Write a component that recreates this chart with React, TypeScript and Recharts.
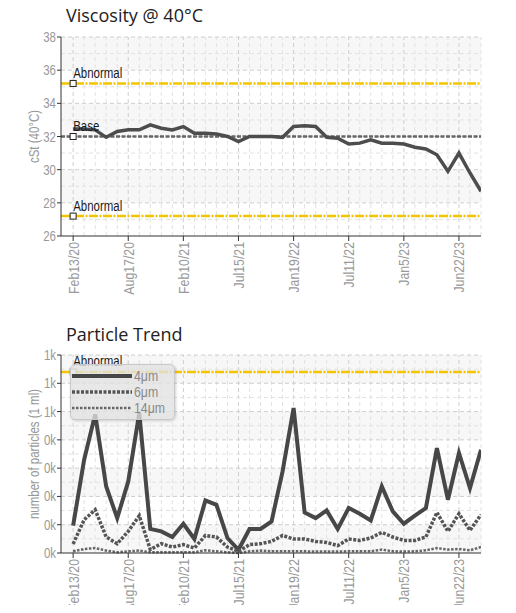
import React from 'react';
import { LineChart, Line, XAxis, YAxis, ReferenceLine, ReferenceArea, ReferenceDot, Legend } from 'recharts';

// sample dates shown on the x axis (one label every 5 samples)
const dateLabels = ['Feb13/20', 'Aug17/20', 'Feb10/21', 'Jul15/21', 'Jan19/22', 'Jul11/22', 'Jan5/23', 'Jun22/23'];

const viscosity = [
  32.45, 32.45, 32.4, 31.95, 32.3, 32.4, 32.4, 32.7, 32.5, 32.4,
  32.6, 32.2, 32.2, 32.15, 32.0, 31.7, 32.0, 32.0, 32.0, 31.95,
  32.6, 32.65, 32.6, 31.95, 31.9, 31.55, 31.6, 31.8, 31.6, 31.6,
  31.55, 31.35, 31.25, 30.9, 29.9, 31.0, 29.8, 28.7,
];

const particles4 = [
  193, 660, 980, 470, 247, 506, 990, 170, 153, 113,
  207, 99, 372, 341, 106, 23, 170, 170, 223, 577,
  1025, 287, 247, 301, 170, 318, 278, 230, 471, 294,
  207, 264, 318, 742, 377, 707, 459, 730,
];
const particles6 = [
  64, 235, 306, 113, 66, 153, 264, 25, 66, 42,
  59, 35, 124, 113, 42, 12, 59, 66, 82, 124,
  99, 99, 82, 75, 52, 99, 89, 106, 146, 113,
  89, 89, 113, 287, 153, 278, 160, 271,
];
const particles14 = [
  12, 28, 35, 17, 5, 12, 17, 5, 5, 5,
  5, 5, 19, 12, 5, 0, 12, 17, 12, 12,
  12, 12, 10, 10, 10, 12, 12, 12, 24, 12,
  10, 12, 19, 35, 24, 28, 19, 42,
];

const viscTicks = [26, 28, 30, 32, 34, 36, 38];
const viscAbnormalHigh = 35.2;
const viscBase = 32;
const viscAbnormalLow = 27.2;

const particleTicks = [0, 200, 400, 600, 800, 1000, 1200, 1400];
const particleAbnormal = 1280;

const particleSeries = [
  { key: 'p4', name: '4\u03bcm', color: '#474747', width: 4, dash: undefined },
  { key: 'p6', name: '6\u03bcm', color: '#555', width: 3.5, dash: '3 1.5' },
  { key: 'p14', name: '14\u03bcm', color: '#666', width: 2.5, dash: '2.5 1.5' },
];

// condensed look: Liberation Sans squeezed horizontally
const FONT = "'Liberation Sans', Arial, sans-serif";
const SQUEEZE = 0.82;
const GRID_MAJOR = '#cfcfcf';
const GRID_MINOR = '#e2e2e2';
const YELLOW = '#f5c400';

const tickIdx = dateLabels.map((_, k) => k * 5);
const sampleIdx = viscosity.map((_, i) => i);
const minorIdx = sampleIdx.filter((i) => i % 5 !== 0);

const viscData = viscosity.map((v, i) => ({ i, v }));
const particleData = particles4.map((v, i) => ({ i, p4: v, p6: particles6[i], p14: particles14[i] }));

const XTick = (props: any) => {
  const { x, y, payload } = props;
  return (
    <text
      transform={`translate(${x}, ${y}) rotate(-90) scale(${SQUEEZE}, 1)`}
      dy="0.36em"
      textAnchor="end"
      fill="#999"
      fontSize={15}
      fontFamily={FONT}
    >
      {dateLabels[payload.value / 5]}
    </text>
  );
};

const yTick = (fmt: (v: number) => string) => (props: any) => {
  const { x, y, payload } = props;
  return (
    <text
      transform={`translate(${x}, ${y}) scale(${SQUEEZE}, 1)`}
      dy="0.36em"
      textAnchor="end"
      fill="#999"
      fontSize={14}
      fontFamily={FONT}
    >
      {fmt(payload.value)}
    </text>
  );
};

const yLabel = (text: string) => (props: any) => {
  const { viewBox } = props;
  const x = viewBox.x + 28;
  const y = viewBox.y + viewBox.height / 2;
  return (
    <text
      transform={`translate(${x}, ${y}) rotate(-90) scale(${SQUEEZE}, 1)`}
      textAnchor="middle"
      fill="#999"
      fontSize={14}
      fontFamily={FONT}
    >
      {text}
    </text>
  );
};

const marker = (label: string, stroke = '#222') => (props: any) => {
  const { cx, cy } = props;
  return (
    <g>
      <rect x={cx - 3} y={cy - 3} width={6} height={6} fill="#fff" stroke={stroke} strokeWidth={1} />
      <text
        transform={`translate(${cx}, ${cy - 5.5}) scale(${SQUEEZE}, 1)`}
        fill="#1a1a1a"
        fontSize={14}
        fontFamily={FONT}
      >
        {label}
      </text>
    </g>
  );
};

const ParticleLegend = () => (
  <div
    style={{
      width: 105,
      height: 56,
      border: '1px solid #c9c9c9',
      borderRadius: 5,
      background: 'rgba(226,226,226,0.78)',
      boxShadow: '1px 1px 3px rgba(0,0,0,0.18)',
      paddingTop: 3,
      boxSizing: 'border-box',
    }}
  >
    {particleSeries.map((s) => (
      <div key={s.key} style={{ display: 'flex', alignItems: 'center', height: 16 }}>
        <svg width={62} height={8} style={{ marginLeft: 1 }}>
          <line x1={0} y1={4} x2={60} y2={4} stroke={s.color} strokeWidth={s.width} strokeDasharray={s.dash} />
        </svg>
        <span
          style={{
            display: 'inline-block',
            color: '#888',
            fontSize: 15,
            fontFamily: FONT,
            lineHeight: '16px',
            transform: `scaleX(${SQUEEZE})`,
            transformOrigin: 'left center',
          }}
        >
          {s.name}
        </span>
      </div>
    ))}
  </div>
);

const titleStyle: React.CSSProperties = {
  position: 'absolute',
  left: 66,
  fontFamily: "'Open Sans', sans-serif",
  fontSize: 18,
  lineHeight: '18px',
  color: '#222',
  whiteSpace: 'nowrap',
};

export default function App() {
  return (
    <div style={{ position: 'relative', width: 516, height: 613, margin: -8, background: '#fff', overflow: 'hidden' }}>
      <div style={{ ...titleStyle, top: 6 }}>Viscosity @ 40°C</div>
      <div style={{ position: 'absolute', left: 0, top: 0 }}>
        <LineChart width={516} height={310} data={viscData} margin={{ top: 37, right: 35, bottom: 0, left: 11 }}>
          {viscTicks.slice(0, -1).map((t, k) =>
            (viscTicks.length - 2 - k) % 2 === 0 ? (
              <ReferenceArea key={'a' + t} y1={t} y2={t + 2} fill="#000" fillOpacity={0.03} stroke="none" />
            ) : null
          )}
          {minorIdx.map((i) => (
            <ReferenceLine key={'vx' + i} x={i} stroke={GRID_MINOR} strokeDasharray="4 3" />
          ))}
          {tickIdx.map((i) => (
            <ReferenceLine key={'mx' + i} x={i} stroke={GRID_MAJOR} strokeDasharray="4 3" />
          ))}
          {viscTicks.slice(0, -1).map((t) => (
            <ReferenceLine key={'hy' + t} y={t + 1} stroke={GRID_MINOR} strokeDasharray="4 3" />
          ))}
          {viscTicks.slice(1).map((t) => (
            <ReferenceLine key={'my' + t} y={t} stroke={GRID_MAJOR} strokeDasharray="4 3" />
          ))}
          <XAxis
            type="number"
            dataKey="i"
            domain={[-1.1, 37]}
            allowDataOverflow
            ticks={tickIdx}
            interval={0}
            height={74}
            tick={<XTick />}
            tickSize={5}
            tickMargin={1}
            axisLine={{ stroke: '#333' }}
            tickLine={{ stroke: '#333' }}
          />
          <YAxis
            type="number"
            domain={[26, 38]}
            ticks={viscTicks}
            interval={0}
            width={50}
            tick={yTick((v) => String(v))}
            tickSize={4}
            tickMargin={1}
            axisLine={{ stroke: '#333' }}
            tickLine={{ stroke: '#333' }}
            label={{ content: yLabel('cSt (40°C)') }}
          />
          <ReferenceLine y={viscAbnormalHigh} stroke={YELLOW} strokeWidth={2.5} strokeDasharray="9 1.5 2 1.5" />
          <ReferenceLine y={viscAbnormalLow} stroke={YELLOW} strokeWidth={2.5} strokeDasharray="9 1.5 2 1.5" />
          <ReferenceLine y={viscBase} stroke="#666" strokeWidth={2.5} strokeDasharray="4 1.5" />
          <Line
            type="linear"
            dataKey="v"
            stroke="#4d4d4d"
            strokeWidth={3.5}
            dot={false}
            isAnimationActive={false}
          />
          <ReferenceDot x={0} y={viscAbnormalHigh} r={3} shape={marker('Abnormal')} />
          <ReferenceDot x={0} y={viscBase} r={3} shape={marker('Base')} />
          <ReferenceDot x={0} y={viscAbnormalLow} r={3} shape={marker('Abnormal')} />
        </LineChart>
      </div>

      <div style={{ ...titleStyle, top: 325 }}>Particle Trend</div>
      <div style={{ position: 'absolute', left: 0, top: 310 }}>
        <LineChart width={516} height={303} data={particleData} margin={{ top: 45, right: 35, bottom: 0, left: 11 }}>
          {particleTicks.slice(0, -1).map((t, k) =>
            (particleTicks.length - 2 - k) % 2 === 0 ? (
              <ReferenceArea key={'a' + t} y1={t} y2={t + 200} fill="#000" fillOpacity={0.03} stroke="none" />
            ) : null
          )}
          {minorIdx.map((i) => (
            <ReferenceLine key={'vx' + i} x={i} stroke={GRID_MINOR} strokeDasharray="4 3" />
          ))}
          {tickIdx.map((i) => (
            <ReferenceLine key={'mx' + i} x={i} stroke={GRID_MAJOR} strokeDasharray="4 3" />
          ))}
          {particleTicks.slice(0, -1).map((t) => (
            <ReferenceLine key={'hy' + t} y={t + 100} stroke={GRID_MINOR} strokeDasharray="4 3" />
          ))}
          {particleTicks.slice(1).map((t) => (
            <ReferenceLine key={'my' + t} y={t} stroke={GRID_MAJOR} strokeDasharray="4 3" />
          ))}
          <XAxis
            type="number"
            dataKey="i"
            domain={[-1.1, 37]}
            allowDataOverflow
            ticks={tickIdx}
            interval={0}
            height={60}
            tick={<XTick />}
            tickSize={5}
            tickMargin={1}
            axisLine={{ stroke: '#333' }}
            tickLine={{ stroke: '#333' }}
          />
          <YAxis
            type="number"
            domain={[0, 1400]}
            ticks={particleTicks}
            interval={0}
            width={50}
            tick={yTick((v) => `${Math.floor(v / 1000)}k`)}
            tickSize={4}
            tickMargin={1}
            axisLine={{ stroke: '#333' }}
            tickLine={{ stroke: '#333' }}
            label={{ content: yLabel('number of particles (1 ml)') }}
          />
          <ReferenceLine y={particleAbnormal} stroke={YELLOW} strokeWidth={2.5} strokeDasharray="9 1.5 2 1.5" />
          {particleSeries.map((s) => (
            <Line
              key={s.key}
              type="linear"
              dataKey={s.key}
              name={s.name}
              stroke={s.color}
              strokeWidth={s.width}
              strokeDasharray={s.dash}
              dot={false}
              isAnimationActive={false}
            />
          ))}
          <ReferenceDot x={0} y={particleAbnormal} r={3} shape={marker('Abnormal', '#999')} />
          <Legend
            layout="vertical"
            align="center"
            verticalAlign="middle"
            content={<ParticleLegend />}
            wrapperStyle={{ left: 70, top: 54, width: 107, height: 58 }}
          />
        </LineChart>
      </div>
    </div>
  );
}
